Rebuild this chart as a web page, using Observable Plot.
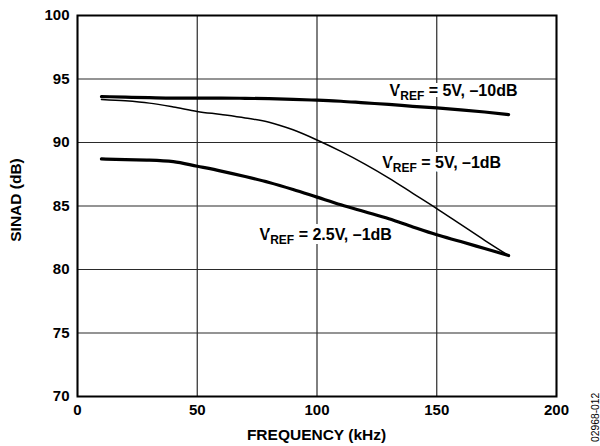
<!DOCTYPE html>
<html>
<head>
<meta charset="utf-8">
<script src="https://cdn.jsdelivr.net/npm/d3@7"></script>
<script src="https://cdn.jsdelivr.net/npm/@observablehq/plot@0.6"></script>
<style>
  body { margin: 0; background: #fff; }
  #chart svg { display: block; }
</style>
</head>
<body>
<div id="chart"></div>
<script>
// Input frequency (kHz) at which SINAD was measured
const frequency = [10, 20, 30, 40, 50, 60, 70, 80, 90, 100, 110, 120, 130, 140, 150, 160, 170, 180];

// SINAD (dB) for each reference / input-level condition
const sinadVref5Neg10 = [93.62, 93.57, 93.53, 93.50, 93.50, 93.50, 93.48, 93.45, 93.40, 93.33, 93.25, 93.12, 93.00, 92.85, 92.72, 92.57, 92.40, 92.20];
const sinadVref5Neg1  = [93.39, 93.28, 93.10, 92.80, 92.45, 92.20, 91.93, 91.60, 91.00, 90.20, 89.30, 88.30, 87.20, 86.00, 84.80, 83.55, 82.30, 81.10];
const sinadVref25Neg1 = [88.71, 88.65, 88.62, 88.50, 88.13, 87.75, 87.32, 86.85, 86.30, 85.70, 85.10, 84.55, 84.00, 83.35, 82.73, 82.20, 81.65, 81.10];

// Curve names and where their labels sit (kHz, dB)
const seriesNames = ["VREF = 5V, –10dB", "VREF = 5V, –1dB", "VREF = 2.5V, –1dB"];
const labelFrequency = [130.3, 127.2, 76];
const labelSinad = [94.06, 88.39, 82.76];

// Axis ticks and titles
const xTicks = [0, 50, 100, 150, 200];
const yTicks = [70, 75, 80, 85, 90, 95, 100];
const xTitle = "FREQUENCY (kHz)";
const yTitle = "SINAD (dB)";
const figureId = "02968-012";

const seriesValues = [sinadVref5Neg10, sinadVref5Neg1, sinadVref25Neg1];
const rows = seriesValues.flatMap((vals, i) =>
  frequency.map((f, j) => ({ series: seriesNames[i], freq: f, sinad: vals[j] }))
);
const thickRows = rows.filter(d => d.series !== seriesNames[1]);
const thinRows = rows.filter(d => d.series === seriesNames[1]);
const labels = seriesNames.map((name, i) => ({ name, freq: labelFrequency[i], sinad: labelSinad[i] }));

const font = "'Liberation Sans', Arial, Helvetica, sans-serif";
const gridStyle = { stroke: "#2a2a2a", strokeOpacity: 1, strokeWidth: 1.2 };

const chart = Plot.plot({
  width: 600,
  height: 446,
  marginLeft: 77,
  marginRight: 44,
  marginTop: 15,
  marginBottom: 50,
  style: { fontFamily: font, fontWeight: "bold", fontSize: "15px", color: "#000", background: "#fff" },
  x: { domain: [0, 200] },
  y: { domain: [70, 100] },
  marks: [
    Plot.gridX(xTicks, gridStyle),
    Plot.gridY(yTicks, gridStyle),
    Plot.text(labels, {
      x: "freq", y: "sinad", text: "name",
      textAnchor: "start", fill: "#000", stroke: "#fff", strokeWidth: 8,
      fontSize: 16, fontWeight: "bold"
    }),
    Plot.line(thickRows, { x: "freq", y: "sinad", z: "series", stroke: "#000", strokeWidth: 3.2, curve: "monotone-x" }),
    Plot.line(thinRows, { x: "freq", y: "sinad", z: "series", stroke: "#000", strokeWidth: 1.5, curve: "monotone-x" }),
    Plot.frame({ stroke: "#000", strokeWidth: 2 }),
    Plot.axisX(xTicks, { tickSize: 0, tickPadding: 8, fontWeight: "bold", label: null }),
    Plot.axisY(yTicks, { tickSize: 0, tickPadding: 8, fontWeight: "bold", label: null })
  ]
});

const svg = d3.select(chart);

// Write "REF" as a subscript of V in each curve label
svg.selectAll("text").each(function () {
  const t = this.textContent;
  if (!t.startsWith("VREF")) return;
  const el = d3.select(this);
  el.text("");
  el.append("tspan").text("V");
  el.append("tspan").attr("font-size", 12).attr("dy", 4).text("REF");
  el.append("tspan").attr("dy", -4).text(t.slice(4));
});

// Axis titles
svg.append("text")
  .attr("x", 316.5).attr("y", 440)
  .attr("text-anchor", "middle")
  .attr("font-family", font).attr("font-weight", "bold").attr("font-size", 15.5)
  .attr("fill", "#000")
  .text(xTitle);

svg.append("text")
  .attr("transform", "translate(21,200) rotate(-90)")
  .attr("text-anchor", "middle")
  .attr("font-family", font).attr("font-weight", "bold").attr("font-size", 15.5)
  .attr("fill", "#000")
  .text(yTitle);

// Figure number along the right edge
svg.append("text")
  .attr("transform", "translate(599,442) rotate(-90)")
  .attr("text-anchor", "start")
  .attr("font-family", font)
  .attr("font-weight", "normal")
  .attr("font-size", 10.3)
  .attr("fill", "#000")
  .text(figureId);

document.getElementById("chart").append(chart);
</script>
</body>
</html>
